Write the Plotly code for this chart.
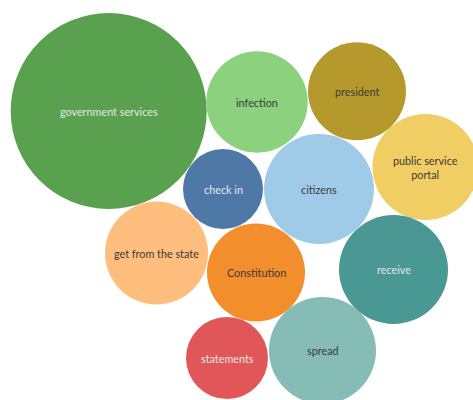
import numpy as np
import plotly.graph_objects as go

# Data
terms = ["government services", "infection", "president", "public service portal",
         "check in", "citizens", "get from the state", "Constitution",
         "receive", "statements", "spread"]
values = [960, 257, 240, 281, 160, 302, 265, 240, 297, 168, 286]

# Packed-bubble layout (pixel-like layout coordinates)
layout_x = [108.7, 257, 357, 425.5, 223, 319, 156.5, 256, 393.5, 227, 322.5]
layout_y = [111, 102, 91.3, 167, 189, 189, 253, 272.5, 269.5, 358, 350.5]

colors = ["#59a14f", "#8cd17d", "#b6992d", "#f1ce63", "#4e79a7", "#a0cbe8",
          "#ffbe7d", "#f28e2b", "#499894", "#e15759", "#86bcb6"]
light_text = {"government services", "check in", "receive", "statements"}

max_radius_px = 98
radii = [max_radius_px * np.sqrt(v / max(values)) for v in values]
labels = [t.replace("public service portal", "public service<br>portal") for t in terms]
text_colors = ["#e6e6e6" if t in light_text else "#3a3a3a" for t in terms]

fig = go.Figure()
fig.add_trace(go.Scatter(
    x=layout_x, y=layout_y, mode="markers",
    marker=dict(size=[2 * r for r in radii], color=colors, opacity=1,
                line=dict(width=0), sizemode="diameter"),
    hovertext=[f"{t}: {v}" for t, v in zip(terms, values)], hoverinfo="text",
    cliponaxis=False,
))

for x, y, lab, tc in zip(layout_x, layout_y, labels, text_colors):
    fig.add_annotation(x=x, y=y, text=lab, showarrow=False,
                       xanchor="center", yanchor="middle",
                       font=dict(family="Lato", size=10.8, color=tc))

fig.update_layout(
    width=473, height=400,
    margin=dict(l=0, r=0, t=0, b=0),
    paper_bgcolor="white", plot_bgcolor="white",
    showlegend=False,
    xaxis=dict(range=[0, 473], visible=False, fixedrange=True),
    yaxis=dict(range=[400, 0], visible=False, fixedrange=True),
)

fig.write_html("out.html", config={"displayModeBar": False},
               post_script="document.body.style.margin='0';document.body.style.padding='0';document.body.style.overflow='hidden';")
